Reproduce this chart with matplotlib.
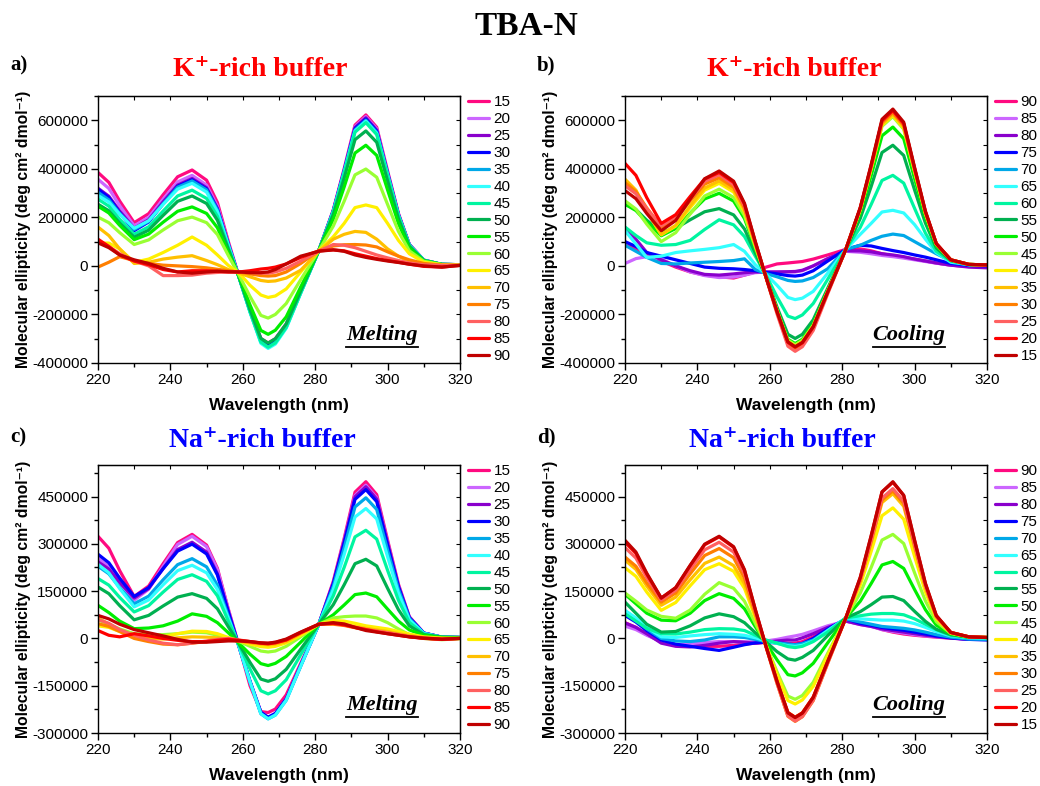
import numpy as np
import matplotlib
matplotlib.use("Agg")
import matplotlib.pyplot as plt
from matplotlib.ticker import MultipleLocator, FuncFormatter
from matplotlib.lines import Line2D

# wavelength grid (nm); ellipticity readings are in thousands of deg cm2 dmol-1
wl = [220, 223, 226, 230, 234, 238, 242, 246, 250, 253, 256, 259, 262, 265, 267,
      269, 272, 276, 281, 285, 288, 291, 294, 297, 300, 303, 306, 310, 315, 320]

temps = [15, 20, 25, 30, 35, 40, 45, 50, 55, 60, 65, 70, 75, 80, 85, 90]
colors = ["#FF0A80", "#CC66FF", "#8A00CC", "#0000FF", "#00A8E8", "#33FFFF", "#00F5A0", "#00B050",
          "#00EE00", "#99FF33", "#FFF000", "#FFC000", "#FF7F00", "#FF6060", "#FF0000", "#C00000"]

# a) K+ buffer, melting
a15 = [385, 344, 267, 178, 215, 293, 367, 395, 353, 261, 101, -47, -180, -299, -318, -300, -239, -103, 63, 231, 400, 580, 622, 571, 391, 216, 89, 24, 6, 5]
a20 = [357, 319, 248, 165, 200, 275, 346, 373, 333, 246, 94, -47, -182, -303, -322, -304, -242, -105, 63, 229, 396, 574, 615, 565, 387, 214, 88, 24, 6, 5]
a25 = [320, 287, 226, 155, 190, 264, 333, 360, 322, 237, 91, -48, -184, -305, -325, -307, -245, -106, 63, 227, 393, 570, 610, 559, 383, 212, 87, 23, 6, 5]
a30 = [316, 282, 219, 145, 181, 256, 328, 355, 317, 233, 89, -48, -186, -310, -330, -312, -249, -109, 63, 226, 390, 565, 605, 555, 380, 210, 87, 23, 6, 5]
a35 = [303, 272, 216, 150, 184, 256, 324, 350, 313, 230, 88, -49, -189, -314, -335, -317, -253, -111, 63, 224, 387, 560, 600, 550, 377, 209, 86, 23, 6, 5]
a40 = [290, 263, 213, 155, 186, 253, 316, 340, 304, 223, 85, -49, -191, -319, -340, -322, -257, -113, 63, 223, 385, 556, 596, 546, 375, 207, 86, 23, 6, 5]
a45 = [275, 246, 192, 130, 161, 226, 288, 312, 278, 204, 76, -49, -189, -314, -335, -317, -253, -111, 63, 221, 381, 551, 590, 541, 371, 206, 85, 23, 6, 5]
a50 = [254, 227, 176, 118, 147, 208, 266, 288, 257, 188, 69, -47, -180, -299, -318, -300, -239, -103, 63, 211, 361, 520, 556, 509, 350, 194, 81, 22, 6, 5]
a55 = [246, 218, 167, 108, 131, 180, 225, 243, 216, 157, 55, -44, -161, -266, -282, -265, -210, -87, 63, 193, 325, 465, 497, 455, 313, 175, 74, 21, 6, 5]
a60 = [201, 178, 137, 88, 107, 148, 186, 201, 178, 129, 43, -39, -126, -204, -215, -200, -155, -57, 63, 164, 266, 375, 399, 365, 253, 142, 62, 19, 5, 4]
a65 = [94, 94, 70, 15, 28, 55, 85, 119, 85, 45, 2, -30, -80, -120, -130, -124, -95, -25, 63, 120, 175, 240, 251, 240, 175, 105, 50, 15, 5, 4]
a70 = [160, 125, 70, 10, 15, 28, 36, 42, 22, 5, -15, -30, -45, -60, -64, -62, -50, -18, 60, 110, 130, 142, 138, 110, 70, 40, 18, 6, 3, 2]
a75 = [-5, 15, 38, 22, 10, 3, 0, -3, -8, -14, -20, -26, -33, -40, -42, -40, -25, 10, 62, 82, 87, 88, 86, 78, 58, 40, 25, 10, 3, 2]
a80 = [105, 80, 50, 20, 0, -40, -40, -38, -30, -27, -25, -25, -27, -30, -30, -25, -10, 20, 60, 88, 85, 75, 60, 45, 33, 22, 12, 4, 2, 3]
a85 = [110, 80, 45, 20, 5, -15, -25, -20, -20, -22, -25, -25, -20, -13, -10, -5, 8, 35, 62, 66, 62, 50, 40, 30, 22, 15, 7, -2, -5, 2]
a90 = [95, 75, 45, 25, 10, -10, -25, -30, -25, -22, -24, -25, -28, -28, -25, -15, 8, 40, 60, 66, 60, 45, 35, 27, 20, 14, 7, 0, -5, 2]

# b) K+ buffer, cooling
b90 = [95, 70, 45, 20, -5, -25, -38, -45, -50, -38, -25, -5, 8, 12, 15, 18, 28, 45, 68, 70, 62, 50, 42, 35, 28, 20, 12, 3, -2, 0]
b85 = [10, 30, 38, 28, 0, -25, -40, -48, -46, -38, -28, -25, -25, -25, -25, -20, 0, 30, 60, 56, 50, 43, 38, 32, 25, 18, 11, 3, -3, -5]
b80 = [155, 110, 55, 25, 0, -20, -35, -38, -33, -28, -25, -25, -25, -24, -23, -18, 0, 30, 62, 62, 58, 50, 45, 38, 28, 20, 12, 3, -5, -8]
b75 = [100, 80, 55, 40, 25, 10, -5, -10, -12, -15, -20, -27, -33, -40, -42, -38, -20, 20, 68, 85, 82, 72, 63, 55, 45, 36, 25, 10, 2, 0]
b70 = [85, 60, 35, 10, 8, 12, 15, 18, 22, 29, -15, -32, -45, -60, -64, -62, -48, -12, 68, 85, 105, 122, 131, 125, 100, 75, 50, 20, 4, 2]
b65 = [145, 90, 35, 40, 55, 62, 68, 75, 88, 60, 5, -35, -80, -130, -139, -133, -105, -30, 68, 130, 175, 222, 229, 218, 170, 110, 55, 15, 5, 3]
b60 = [160, 125, 95, 85, 88, 105, 150, 190, 169, 121, 40, -39, -128, -207, -217, -202, -155, -55, 68, 159, 253, 352, 373, 341, 237, 135, 60, 20, 5, 3]
b55 = [255, 232, 188, 138, 155, 190, 223, 236, 210, 152, 53, -46, -170, -282, -299, -282, -222, -92, 68, 196, 327, 467, 497, 455, 313, 176, 74, 22, 6, 4]
b50 = [254, 228, 180, 124, 154, 217, 276, 299, 267, 195, 72, -47, -181, -302, -320, -302, -239, -101, 68, 219, 372, 536, 572, 524, 360, 201, 83, 24, 6, 4]
b45 = [268, 234, 172, 100, 137, 214, 288, 316, 282, 207, 77, -48, -184, -306, -325, -307, -244, -103, 68, 232, 398, 575, 615, 563, 387, 215, 89, 24, 6, 4]
b40 = [352, 307, 224, 128, 164, 240, 312, 340, 304, 223, 85, -48, -186, -311, -330, -312, -248, -105, 68, 233, 401, 580, 620, 568, 390, 216, 89, 25, 6, 4]
b35 = [357, 312, 228, 130, 167, 247, 321, 350, 313, 230, 88, -49, -189, -315, -335, -317, -252, -108, 68, 235, 404, 584, 625, 573, 393, 218, 90, 25, 6, 4]
b30 = [343, 306, 239, 160, 195, 268, 337, 363, 324, 239, 91, -49, -192, -320, -340, -321, -256, -110, 68, 237, 408, 591, 632, 579, 397, 220, 91, 25, 6, 4]
b25 = [330, 297, 236, 165, 201, 276, 348, 375, 335, 247, 95, -50, -198, -331, -352, -333, -266, -115, 68, 239, 413, 598, 640, 586, 402, 223, 92, 25, 6, 4]
b20 = [422, 373, 281, 175, 211, 286, 358, 385, 344, 254, 98, -49, -189, -315, -335, -317, -252, -108, 68, 239, 413, 598, 640, 586, 402, 223, 92, 25, 6, 4]
b15 = [310, 277, 216, 145, 187, 275, 359, 391, 349, 258, 100, -49, -188, -313, -333, -315, -250, -107, 68, 241, 417, 604, 646, 592, 406, 225, 92, 25, 6, 4]

# c) Na+ buffer, melting
c15 = [324, 286, 215, 133, 166, 237, 304, 330, 296, 222, 93, -26, -150, -232, -235, -224, -179, -79, 45, 181, 317, 464, 497, 456, 312, 172, 69, 17, 4, 3]
c20 = [255, 228, 179, 121, 156, 229, 298, 324, 291, 218, 92, -27, -136, -234, -250, -238, -192, -85, 45, 177, 311, 453, 486, 446, 305, 168, 68, 17, 4, 3]
c25 = [243, 220, 177, 128, 158, 222, 282, 305, 274, 205, 86, -27, -137, -236, -252, -240, -193, -86, 45, 176, 308, 449, 481, 442, 302, 166, 67, 17, 4, 3]
c30 = [267, 240, 191, 133, 161, 221, 277, 299, 268, 201, 84, -27, -136, -234, -250, -238, -192, -85, 45, 173, 302, 441, 472, 434, 296, 164, 66, 17, 4, 3]
c35 = [229, 205, 161, 110, 134, 186, 234, 253, 227, 169, 70, -27, -138, -239, -255, -243, -196, -88, 45, 165, 287, 417, 446, 409, 280, 155, 63, 16, 4, 3]
c40 = [235, 208, 158, 100, 122, 170, 215, 232, 208, 155, 64, -27, -138, -239, -255, -243, -196, -88, 45, 155, 266, 385, 412, 379, 259, 144, 59, 16, 4, 3]
c45 = [190, 169, 130, 84, 104, 147, 187, 202, 181, 135, 55, -21, -97, -166, -176, -166, -131, -52, 45, 135, 225, 322, 343, 315, 216, 121, 51, 14, 4, 3]
c50 = [163, 142, 104, 59, 73, 103, 131, 142, 127, 94, 37, -18, -76, -129, -136, -128, -98, -34, 45, 107, 170, 237, 251, 230, 159, 91, 40, 12, 4, 3]
c55 = [105, 82, 55, 31, 33, 40, 55, 78, 70, 50, 18, -16, -50, -80, -86, -79, -57, -12, 45, 75, 106, 139, 144, 132, 93, 55, 27, 10, 3, 2]
c60 = [59, 45, 30, 15, 12, 12, 15, 20, 18, 10, 0, -10, -25, -40, -43, -40, -25, 5, 45, 65, 69, 71, 71, 65, 50, 30, 12, 0, -4, -1]
c65 = [40, 35, 22, 10, 5, 5, 15, 23, 22, 15, 3, -8, -18, -26, -28, -25, -14, 10, 45, 57, 55, 48, 40, 35, 30, 22, 14, 5, 1, 0]
c70 = [65, 45, 25, 5, 0, -2, 2, 5, 4, 2, -3, -8, -14, -18, -20, -18, -10, 15, 45, 48, 45, 38, 32, 27, 22, 15, 9, 3, 0, 0]
c75 = [47, 38, 22, 0, -10, -18, -20, -15, -10, -7, -5, -8, -12, -16, -17, -14, -5, 18, 45, 45, 41, 34, 28, 23, 18, 12, 6, 1, -3, 0]
c80 = [60, 48, 28, 10, -5, -15, -20, -15, -8, -3, 0, -5, -10, -14, -15, -12, -3, 20, 45, 48, 43, 35, 28, 23, 18, 12, 6, 1, -3, 0]
c85 = [25, 10, 5, 15, 8, 0, -6, -10, -10, -6, -3, -6, -10, -15, -17, -14, -5, 18, 45, 48, 43, 35, 28, 21, 15, 10, 5, 0, -3, 0]
c90 = [73, 62, 45, 28, 18, 8, -3, -12, -12, -10, -8, -8, -10, -14, -15, -12, -2, 20, 45, 50, 46, 35, 25, 20, 15, 10, 5, 1, -2, 0]

# d) Na+ buffer, cooling
d90 = [50, 35, 12, -10, -20, -25, -25, -25, -22, -18, -15, -12, -14, -15, -15, -10, 5, 30, 55, 46, 40, 28, 20, 14, 10, 7, 4, 1, -2, -3]
d85 = [39, 28, 10, -10, -20, -18, -13, -10, -10, -11, -10, -8, -3, 4, 8, 13, 24, 40, 55, 44, 38, 28, 22, 17, 12, 8, 5, 1, -3, -3]
d80 = [49, 35, 15, -15, -25, -27, -22, -15, -10, -12, -15, -12, -8, -5, -5, 2, 15, 35, 55, 44, 38, 30, 25, 20, 15, 10, 6, 1, -3, -3]
d75 = [73, 52, 25, -5, -18, -25, -32, -38, -28, -20, -14, -12, -14, -18, -20, -16, 0, 30, 62, 48, 42, 35, 30, 26, 20, 14, 8, 2, -3, -5]
d70 = [80, 58, 30, 0, -8, -10, -5, 5, 5, 3, -3, -10, -14, -18, -20, -17, -5, 25, 62, 52, 45, 38, 35, 32, 27, 20, 12, 4, -2, -3]
d65 = [89, 65, 35, 5, 3, 8, 12, 15, 13, 10, 2, -8, -16, -23, -25, -22, -8, 25, 65, 62, 60, 58, 58, 55, 47, 35, 22, 8, 2, 0]
d60 = [78, 55, 32, 15, 14, 20, 28, 31, 30, 25, 10, -5, -15, -26, -29, -25, -10, 20, 65, 72, 77, 79, 79, 75, 62, 45, 28, 10, 3, 2]
d55 = [115, 80, 45, 20, 22, 40, 65, 78, 69, 50, 18, -12, -42, -65, -69, -60, -38, 9, 65, 85, 107, 131, 133, 120, 86, 54, 29, 12, 4, 3]
d50 = [140, 110, 80, 58, 56, 80, 120, 142, 127, 94, 37, -16, -68, -115, -119, -109, -79, -14, 65, 118, 174, 233, 244, 222, 155, 91, 42, 14, 4, 3]
d45 = [144, 118, 90, 70, 64, 90, 140, 177, 159, 118, 48, -22, -106, -183, -193, -181, -139, -47, 65, 144, 225, 312, 330, 301, 208, 119, 53, 16, 5, 3]
d40 = [224, 197, 147, 89, 114, 167, 218, 237, 213, 159, 66, -23, -114, -197, -208, -195, -152, -54, 65, 169, 276, 389, 414, 378, 260, 147, 63, 17, 5, 3]
d35 = [248, 219, 166, 105, 131, 186, 238, 258, 231, 173, 72, -27, -136, -235, -250, -236, -186, -73, 65, 182, 303, 431, 459, 419, 288, 162, 68, 18, 5, 3]
d30 = [258, 229, 176, 115, 144, 205, 263, 285, 256, 191, 80, -28, -143, -247, -263, -248, -197, -79, 65, 185, 308, 439, 468, 428, 294, 165, 69, 19, 5, 3]
d25 = [288, 255, 193, 122, 153, 219, 281, 305, 274, 205, 86, -28, -142, -246, -262, -248, -196, -78, 65, 187, 312, 445, 475, 435, 298, 167, 70, 19, 5, 3]
d20 = [305, 270, 204, 128, 161, 231, 297, 322, 289, 216, 91, -27, -136, -235, -250, -236, -186, -73, 65, 193, 324, 464, 495, 453, 310, 174, 72, 19, 5, 3]
d15 = [311, 274, 207, 128, 161, 232, 299, 324, 291, 218, 92, -27, -136, -236, -251, -237, -187, -73, 65, 194, 326, 465, 497, 454, 312, 174, 73, 19, 5, 3]

sans = ["Liberation Sans", "DejaVu Sans"]
serif = ["Liberation Serif", "DejaVu Serif"]
plt.rcParams["font.family"] = sans

fig = plt.figure(figsize=(10.4, 7.86), dpi=100)

panels = [
    dict(rect=[0.0942, 0.5382, 0.3481, 0.3397], data=[a15, a20, a25, a30, a35, a40, a45, a50, a55, a60, a65, a70, a75, a80, a85, a90],
         labels=temps, ylim=(-400000, 700000), major=200000, minor=100000,
         sub="K⁺-rich buffer", subc="#FF0000", mode="Melting", letter="a)", lx=0.010, ly=0.917, sx=0.250, sy=0.911),
    dict(rect=[0.6010, 0.5382, 0.3480, 0.3397], data=[b90, b85, b80, b75, b70, b65, b60, b55, b50, b45, b40, b35, b30, b25, b20, b15],
         labels=temps[::-1], ylim=(-400000, 700000), major=200000, minor=100000,
         sub="K⁺-rich buffer", subc="#FF0000", mode="Cooling", letter="b)", lx=0.516, ly=0.917, sx=0.764, sy=0.911),
    dict(rect=[0.0942, 0.0674, 0.3481, 0.3410], data=[c15, c20, c25, c30, c35, c40, c45, c50, c55, c60, c65, c70, c75, c80, c85, c90],
         labels=temps, ylim=(-300000, 550000), major=150000, minor=75000,
         sub="Na⁺-rich buffer", subc="#0000FF", mode="Melting", letter="c)", lx=0.010, ly=0.444, sx=0.252, sy=0.440),
    dict(rect=[0.6010, 0.0674, 0.3480, 0.3410], data=[d90, d85, d80, d75, d70, d65, d60, d55, d50, d45, d40, d35, d30, d25, d20, d15],
         labels=temps[::-1], ylim=(-300000, 550000), major=150000, minor=75000,
         sub="Na⁺-rich buffer", subc="#0000FF", mode="Cooling", letter="d)", lx=0.516, ly=0.444, sx=0.752, sy=0.440),
]

for p in panels:
    ax = fig.add_axes(p["rect"])
    handles = []
    for vals, col, lab in zip(p["data"], colors, p["labels"]):
        line, = ax.plot(wl, np.array(vals) * 1000, color=col, lw=2.3, label=str(lab),
                        solid_joinstyle="round", solid_capstyle="round")
        handles.append(line)
    ax.set_xlim(220, 320)
    ax.set_ylim(*p["ylim"])
    ax.xaxis.set_major_locator(MultipleLocator(20))
    ax.xaxis.set_minor_locator(MultipleLocator(10))
    ax.yaxis.set_major_locator(MultipleLocator(p["major"]))
    ax.yaxis.set_minor_locator(MultipleLocator(p["minor"]))
    ax.yaxis.set_major_formatter(FuncFormatter(lambda v, pos: f"{int(round(v))}"))
    ax.tick_params(which="major", direction="out", length=5, width=1, labelsize=11, pad=2)
    ax.tick_params(which="minor", direction="out", length=3, width=1)
    for s in ax.spines.values():
        s.set_linewidth(1.0)

    # small inward ticks on the top and right frame
    top = ax.secondary_xaxis("top")
    top.xaxis.set_major_locator(MultipleLocator(20))
    top.xaxis.set_minor_locator(MultipleLocator(10))
    top.tick_params(which="both", direction="in", length=3, width=0.8, labeltop=False)
    right = ax.secondary_yaxis("right")
    right.yaxis.set_major_locator(MultipleLocator(p["major"]))
    right.yaxis.set_minor_locator(MultipleLocator(p["minor"]))
    right.tick_params(which="both", direction="in", length=3, width=0.8, labelright=False)

    ax.set_xlabel("Wavelength (nm)", fontsize=12.5, fontweight="bold", labelpad=8)
    ax.set_ylabel("Molecular ellipticity (deg cm² dmol⁻¹)", fontsize=11.3, fontweight="bold", labelpad=1)

    ax.legend(handles=handles, loc="upper left", bbox_to_anchor=(1.022, 1.002), frameon=False,
              fontsize=11, handlelength=1.37, handletextpad=0.3, labelspacing=0.19,
              borderpad=0, borderaxespad=0)

    ax.text(0.785, 0.105, p["mode"], transform=ax.transAxes, ha="center", va="center",
            fontsize=16, fontweight="bold", fontstyle="italic", family=serif)
    ax.add_line(Line2D([0.685, 0.885], [0.058, 0.058], transform=ax.transAxes, color="black", lw=1.3))

    fig.text(p["lx"], p["ly"], p["letter"], fontsize=15, fontweight="bold", family=serif, va="center")
    fig.text(p["sx"], p["sy"], p["sub"], fontsize=20, fontweight="bold", family=serif,
             color=p["subc"], ha="center", va="center")

fig.text(0.506, 0.966, "TBA-N", fontsize=24, fontweight="bold", family=serif, ha="center", va="center")

fig.savefig("out.png", dpi=100)
